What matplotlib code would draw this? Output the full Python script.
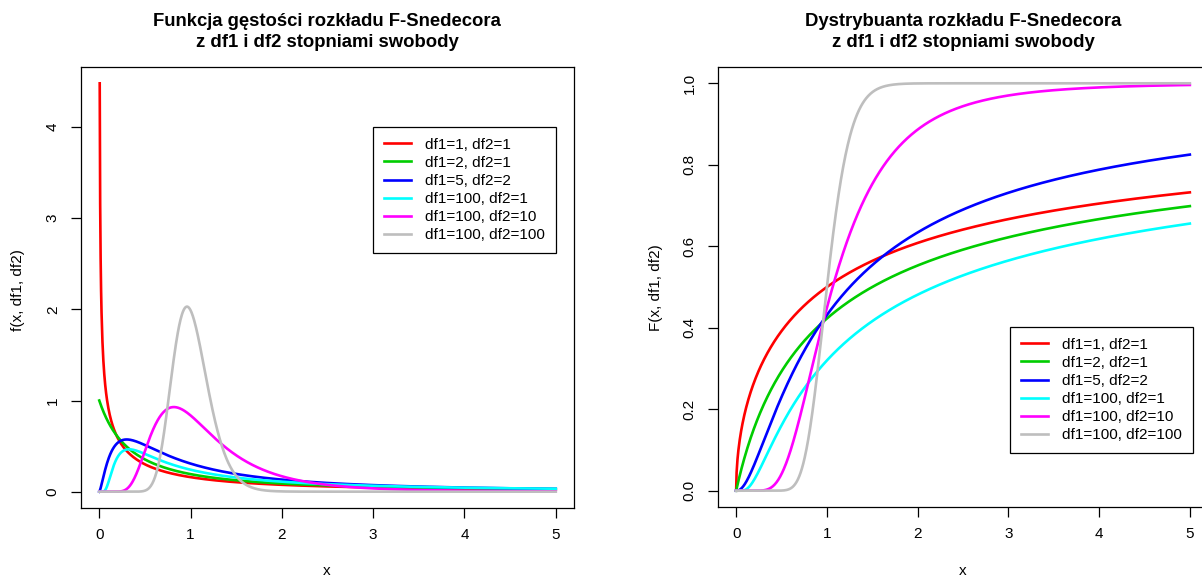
import math

import matplotlib
matplotlib.use("Agg")
import matplotlib.pyplot as plt
import numpy as np

plt.rcParams["font.family"] = ["Liberation Sans", "DejaVu Sans"]

# degrees of freedom for each curve (from the legend)
DF1 = [1, 2, 5, 100, 100, 100]
DF2 = [1, 1, 2, 1, 10, 100]
LABELS = [f"df1={a}, df2={b}" for a, b in zip(DF1, DF2)]
COLORS = ["#FF0000", "#00CD00", "#0000FF", "#00FFFF", "#FF00FF", "#BEBEBE"]
X = np.linspace(0, 5, 1001)

TITLE_PDF = "Funkcja gęstości rozkładu F-Snedecora\nz df1 i df2 stopniami swobody"
TITLE_CDF = "Dystrybuanta rozkładu F-Snedecora\nz df1 i df2 stopniami swobody"

W, H = 1202, 577


def lbeta(a, b):
    return math.lgamma(a) + math.lgamma(b) - math.lgamma(a + b)


def f_pdf(x, d1, d2):
    if x <= 0:
        if d1 == 1:
            return np.nan
        return 1.0 if d1 == 2 else 0.0
    lp = (0.5 * d1 * math.log(d1) + 0.5 * d2 * math.log(d2)
          + (d1 / 2 - 1) * math.log(x) - (d1 + d2) / 2 * math.log(d2 + d1 * x)
          - lbeta(d1 / 2, d2 / 2))
    return math.exp(lp)


def betacf(a, b, x):
    tiny = 1e-300
    qab, qap, qam = a + b, a + 1, a - 1
    c = 1.0
    d = 1 - qab * x / qap
    d = tiny if abs(d) < tiny else d
    d = 1 / d
    h = d
    for m in range(1, 500):
        m2 = 2 * m
        aa = m * (b - m) * x / ((qam + m2) * (a + m2))
        d = 1 + aa * d
        d = tiny if abs(d) < tiny else d
        c = 1 + aa / c
        c = tiny if abs(c) < tiny else c
        d = 1 / d
        h *= d * c
        aa = -(a + m) * (qab + m) * x / ((a + m2) * (qap + m2))
        d = 1 + aa * d
        d = tiny if abs(d) < tiny else d
        c = 1 + aa / c
        c = tiny if abs(c) < tiny else c
        d = 1 / d
        de = d * c
        h *= de
        if abs(de - 1) < 1e-12:
            break
    return h


def betai(a, b, x):
    if x <= 0:
        return 0.0
    if x >= 1:
        return 1.0
    bt = math.exp(-lbeta(a, b) + a * math.log(x) + b * math.log(1 - x))
    if x < (a + 1) / (a + b + 2):
        return bt * betacf(a, b, x) / a
    return 1 - bt * betacf(b, a, 1 - x) / b


def f_cdf(x, d1, d2):
    if x <= 0:
        return 0.0
    return betai(d1 / 2, d2 / 2, d1 * x / (d1 * x + d2))


def style_axes(ax):
    for s in ax.spines.values():
        s.set_linewidth(0.9)
    ax.tick_params(length=7.3, width=0.9, labelsize=11)
    ax.tick_params(axis="x", pad=7)
    ax.tick_params(axis="y", pad=8)
    for lab in ax.get_yticklabels():
        lab.set_rotation(90)
        lab.set_va("center")


def add_legend(ax, left, top):
    leg = ax.legend(loc="upper left", bbox_to_anchor=(left / W, 1 - top / H),
                    bbox_transform=ax.figure.transFigure, fontsize=11,
                    fancybox=False, framealpha=1, edgecolor="black",
                    borderaxespad=0, borderpad=0.7, handlelength=1.8,
                    handletextpad=0.9, labelspacing=0.27)
    leg.get_frame().set_linewidth(0.9)


fig = plt.figure(figsize=(W / 100, H / 100), dpi=100)
ax1 = fig.add_axes([81 / W, 1 - 508 / H, (574 - 81) / W, (508 - 67) / H])
ax2 = fig.add_axes([718 / W, 1 - 507 / H, (1208 - 718) / W, (507 - 67) / H])

ymax = 0
for d1, d2, lab, col in zip(DF1, DF2, LABELS, COLORS):
    y = np.array([f_pdf(v, d1, d2) for v in X])
    ymax = max(ymax, np.nanmax(y))
    ax1.plot(X, y, color=col, lw=1.9, label=lab)
    yc = np.array([f_cdf(v, d1, d2) for v in X])
    ax2.plot(X, yc, color=col, lw=1.9, label=lab)

ax1.set_xlim(-0.2, 5.2)
ax1.set_ylim(-0.04 * ymax, 1.04 * ymax)
ax1.set_xticks(range(6))
ax1.set_yticks(range(5))
ax2.set_xlim(-0.2, 5.2)
ax2.set_ylim(-0.04, 1.04)
ax2.set_xticks(range(6))
ax2.set_yticks(np.arange(0, 1.01, 0.2))
ax2.set_yticklabels([f"{v:.1f}" for v in np.arange(0, 1.01, 0.2)])

style_axes(ax1)
style_axes(ax2)
add_legend(ax1, 373, 127)
add_legend(ax2, 1010, 327)

fig.text(327 / W, 1 - 32 / H, TITLE_PDF, ha="center", va="center",
         fontsize=13.3, fontweight="bold", linespacing=1.25)
fig.text(963 / W, 1 - 32 / H, TITLE_CDF, ha="center", va="center",
         fontsize=13.3, fontweight="bold", linespacing=1.25)
fig.text(18 / W, 1 - 290 / H, "f(x, df1, df2)", rotation=90, ha="center",
         va="center", fontsize=11)
fig.text(656 / W, 1 - 288 / H, "F(x, df1, df2)", rotation=90, ha="center",
         va="center", fontsize=11)
fig.text(327 / W, 1 - 571 / H, "x", ha="center", va="center", fontsize=11)
fig.text(963 / W, 1 - 571 / H, "x", ha="center", va="center", fontsize=11)

fig.savefig("out.png", dpi=100)
